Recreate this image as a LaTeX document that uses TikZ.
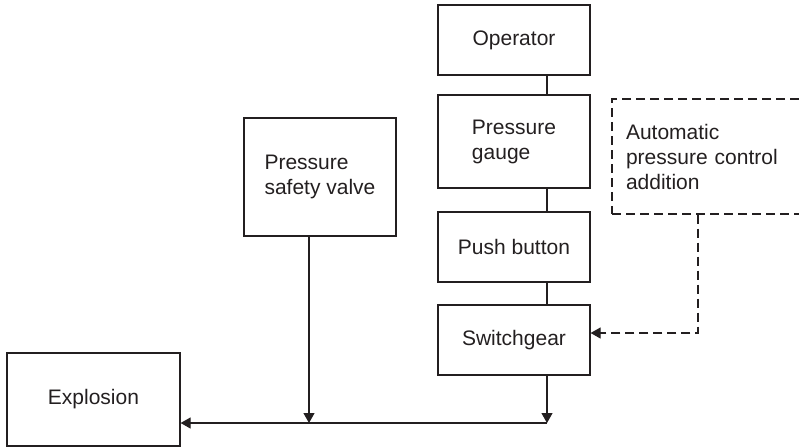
\documentclass[tikz,border=0pt]{standalone}
\usepackage{fontspec}
\setmainfont{Liberation Sans}
\usetikzlibrary{arrows.meta}
\definecolor{figink}{HTML}{231F20}
\tikzset{
  blockbox/.style={draw=figink, line width=0.6pt, text=figink, minimum width=76pt, align=left, inner sep=0pt},
  flowarrow/.style={-{Triangle[length=5pt,width=5.5pt]}, figink, line width=0.6pt},
}
\begin{document}
\begin{tikzpicture}[x=0.5pt,y=-0.5pt,every node/.style={font=\fontsize{10.5}{12.5}\selectfont}]
\clip (0,0) rectangle (799,447);
\useasboundingbox (0,0) rectangle (799,447);
% control chain
\node[blockbox, minimum height=35pt] (operator) at (514,40) {Operator};
\node[blockbox, minimum height=46.5pt] (gauge) at (514,141.5) {Pressure\\gauge};
\node[blockbox, minimum height=35pt] (button) at (514,247) {Push button};
\node[blockbox, minimum height=35pt] (switch) at (514,340) {Switchgear};
\node[blockbox, minimum height=59pt] (valve) at (320,177) {Pressure\\safety valve};
\node[blockbox, minimum width=86.5pt, minimum height=46.5pt] (explosion) at (93.5,399.5) {Explosion};
\node[blockbox, dashed, dash pattern=on 4.5pt off 2.5pt, minimum width=109pt, minimum height=57.5pt,
  text width=95pt, inner xsep=7pt] (auto) at (721,156.5) {Automatic\\pressure control\\addition};
% junctions
\coordinate (busR) at (547,423);
\coordinate (valveX) at (309,423);
\coordinate (autoX) at (698,333);
\draw[figink, line width=0.6pt] (operator.south -| busR) -- (gauge.north -| busR);
\draw[figink, line width=0.6pt] (gauge.south -| busR) -- (button.north -| busR);
\draw[figink, line width=0.6pt] (button.south -| busR) -- (switch.north -| busR);
\draw[flowarrow] (switch.south -| busR) -- (busR);
\draw[flowarrow] (valve.south -| valveX) -- (valveX);
\draw[flowarrow] (busR) -- (explosion.east |- busR);
\draw[flowarrow, dashed, dash pattern=on 4.5pt off 2.5pt] (auto.south -| autoX) -- (autoX) -- (switch.east |- autoX);
\end{tikzpicture}
\end{document}
